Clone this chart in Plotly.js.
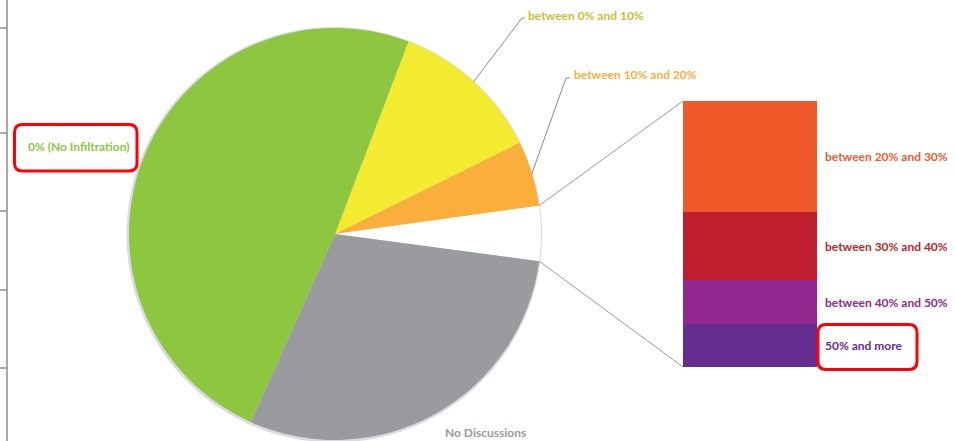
<!DOCTYPE html>
<html>
<head>
<meta charset="utf-8">
<script src="https://cdn.plot.ly/plotly-3.0.1.min.js"></script>
<style>html,body{margin:0;padding:0;background:#fff;}#chart{width:955px;height:441px;}</style>
</head>
<body>
<div id="chart"></div>
<script>
// ---- data ----
const pieLabels = ['between 0% and 10%', 'between 10% and 20%', 'Other', 'No Discussions', '0% (No Infiltration)'];
const pieMainValues = [11.9, 5.1, null, 29.6, 49.1]; // "Other" = sum of bar values
const barLabels = ['between 20% and 30%', 'between 30% and 40%', 'between 40% and 50%', '50% and more'];
const barValues = [1.8, 1.1, 0.7, 0.7];

const pieColors = ['#F3EB2F', '#FAAF3C', '#FFFFFF', '#999B9E', '#8DC63F'];
const pieTextColors = ['#C9C03A', '#FAAF3C', null, '#999B9E', '#8DC63F'];
const barColors = ['#F05A2B', '#BE1E2D', '#92278F', '#662D91'];

// ---- geometry (pixels) ----
const W = 955, H = 441;
const pieCx = 335, pieCy = 234, pieR = 206;
const pieRotation = 20.9;
const barLeft = 683, barRight = 817, barTop = 101, barBottom = 367;
const px = x => x / W;
const py = y => 1 - y / H;

const otherValue = barValues.reduce((a, b) => a + b, 0);
const pieValues = pieMainValues.map(v => v === null ? otherValue : v);
const total = pieValues.reduce((a, b) => a + b, 0);

// angle helpers (deg clockwise from 12 o'clock)
function cumStart(i) {
  let s = 0;
  for (let k = 0; k < i; k++) s += pieValues[k];
  return pieRotation + s / total * 360;
}
function arcPoint(deg, r) {
  const a = deg * Math.PI / 180;
  return [pieCx + r * Math.sin(a), pieCy - r * Math.cos(a)];
}

const traces = [];
traces.push({
  type: 'pie',
  labels: pieLabels,
  values: pieValues,
  sort: false,
  direction: 'clockwise',
  rotation: pieRotation,
  marker: {colors: pieColors, line: {width: 0}},
  textinfo: 'none',
  hoverinfo: 'label+value',
  showlegend: false,
  domain: {x: [px(pieCx - pieR), px(pieCx + pieR)], y: [py(pieCy + pieR), py(pieCy - pieR)]}
});

// stacked bar: bottom first
for (let i = barLabels.length - 1; i >= 0; i--) {
  traces.push({
    type: 'bar', x: [0], y: [barValues[i]], name: barLabels[i],
    marker: {color: barColors[i], line: {width: 0}},
    width: 1, showlegend: false, hoverinfo: 'name+y',
    xaxis: 'x', yaxis: 'y'
  });
}

const shapes = [];
const annotations = [];
const font = (c) => ({family: 'Lato, "Open Sans", sans-serif', size: 12, color: c, weight: 700});

// pie shadow
shapes.push({type: 'circle', xref: 'paper', yref: 'paper', layer: 'below',
  x0: px(pieCx - pieR - 2.5), x1: px(pieCx + pieR + 1), y0: py(pieCy + pieR + 2.5), y1: py(pieCy - pieR - 1),
  fillcolor: 'rgba(150,150,170,0.35)', line: {width: 0}});

// connector lines from "Other" slice to bar
const otherIdx = 2;
const pA = arcPoint(cumStart(otherIdx), pieR);
const pB = arcPoint(cumStart(otherIdx + 1), pieR);
shapes.push({type: 'line', xref: 'paper', yref: 'paper', x0: px(pA[0]), y0: py(pA[1]), x1: px(barLeft), y1: py(barTop), line: {color: '#9A9A9A', width: 1}});
shapes.push({type: 'line', xref: 'paper', yref: 'paper', x0: px(pB[0]), y0: py(pB[1]), x1: px(barLeft), y1: py(barBottom), line: {color: '#9A9A9A', width: 1}});

// leader lines for labels
const leaders = [
  {i: 0, elbow: [522, 18], end: [525, 18], tx: 526, ty: 16},
  {i: 1, elbow: [566, 78], end: [570, 78], tx: 572, ty: 75}
];
leaders.forEach(l => {
  const mid = (cumStart(l.i) + cumStart(l.i + 1)) / 2;
  const p = arcPoint(mid, pieR);
  shapes.push({type: 'path', xref: 'paper', yref: 'paper',
    path: `M ${px(p[0])} ${py(p[1])} L ${px(l.elbow[0])} ${py(l.elbow[1])} L ${px(l.end[0])} ${py(l.end[1])}`,
    line: {color: '#8A8A8A', width: 1}});
  annotations.push({xref: 'paper', yref: 'paper', x: px(l.tx), y: py(l.ty), xanchor: 'left', yanchor: 'middle',
    text: pieLabels[l.i], showarrow: false, font: font(pieTextColors[l.i])});
});

annotations.push({xref: 'paper', yref: 'paper', x: px(485), y: py(432), xanchor: 'center', yanchor: 'middle',
  text: pieLabels[3], showarrow: false, font: font(pieTextColors[3])});
annotations.push({xref: 'paper', yref: 'paper', x: px(79), y: py(147), xanchor: 'center', yanchor: 'middle',
  text: pieLabels[4], showarrow: false, font: font(pieTextColors[4])});

// bar labels
let cum = 0;
const mids = [];
for (let i = barLabels.length - 1; i >= 0; i--) {
  mids[i] = cum + barValues[i] / 2;
  cum += barValues[i];
}
barLabels.forEach((lab, i) => {
  annotations.push({xref: 'x', yref: 'y', x: 0.5, y: mids[i], xshift: 6, xanchor: 'left', yanchor: 'middle',
    text: lab, showarrow: false, font: font(barColors[i])});
});

// red highlight boxes (rounded)
function roundRect(x0, y0, x1, y1, r) {
  const X = v => px(v), Y = v => py(v);
  return `M ${X(x0 + r)} ${Y(y0)} L ${X(x1 - r)} ${Y(y0)} Q ${X(x1)} ${Y(y0)} ${X(x1)} ${Y(y0 + r)} ` +
    `L ${X(x1)} ${Y(y1 - r)} Q ${X(x1)} ${Y(y1)} ${X(x1 - r)} ${Y(y1)} ` +
    `L ${X(x0 + r)} ${Y(y1)} Q ${X(x0)} ${Y(y1)} ${X(x0)} ${Y(y1 - r)} ` +
    `L ${X(x0)} ${Y(y0 + r)} Q ${X(x0)} ${Y(y0)} ${X(x0 + r)} ${Y(y0)} Z`;
}
shapes.push({type: 'path', xref: 'paper', yref: 'paper', path: roundRect(14.5, 124.5, 137, 171, 8), line: {color: '#FF0000', width: 3}});
shapes.push({type: 'path', xref: 'paper', yref: 'paper', path: roundRect(818, 324.5, 917, 369.5, 8), line: {color: '#FF0000', width: 3}});

// left border artifact
shapes.push({type: 'line', xref: 'paper', yref: 'paper', x0: px(7), x1: px(7), y0: 0, y1: 1, line: {color: '#8C8C8C', width: 1.5}});
[28, 133, 211, 290, 368].forEach(t => {
  shapes.push({type: 'line', xref: 'paper', yref: 'paper', x0: 0, x1: px(7), y0: py(t), y1: py(t), line: {color: '#8C8C8C', width: 1.5}});
});

const layout = {
  width: W, height: H,
  margin: {l: 0, r: 0, t: 0, b: 0, pad: 0},
  paper_bgcolor: '#FFFFFF', plot_bgcolor: 'rgba(0,0,0,0)',
  barmode: 'stack', bargap: 0,
  showlegend: false,
  xaxis: {domain: [px(barLeft), px(barRight)], range: [-0.5, 0.5], visible: false, fixedrange: true},
  yaxis: {domain: [py(barBottom), py(barTop)], range: [0, otherValue], visible: false, fixedrange: true},
  shapes: shapes,
  annotations: annotations
};

Plotly.newPlot('chart', traces, layout, {displayModeBar: false, staticPlot: true});
</script>
</body>
</html>
